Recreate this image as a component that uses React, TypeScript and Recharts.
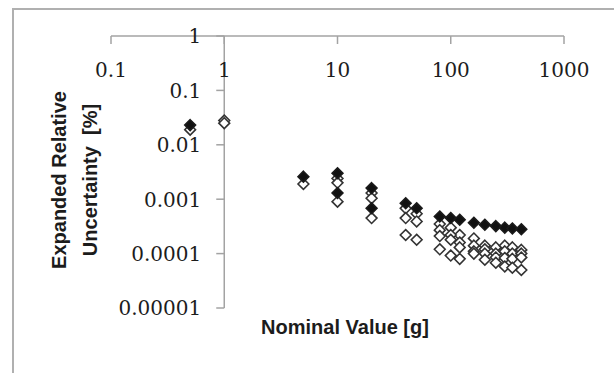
import { ScatterChart, Scatter, XAxis, YAxis, ReferenceLine } from "recharts"

const xTicks = [0.1, 1, 10, 100, 1000]
const xTickLabels = ["0.1", "1", "10", "100", "1000"]
const yTicks = [0.00001, 0.0001, 0.001, 0.01, 0.1, 1]
const yTickLabels = ["0.00001", "0.0001", "0.001", "0.01", "0.1", "1"]

const filledAX = [0.5, 5, 10, 20, 40, 50, 80, 100, 120, 160, 200, 250, 300, 350, 420]
const filledAY = [0.023, 0.0026, 0.003, 0.0016, 0.00084, 0.00068, 0.00048, 0.00045, 0.00042, 0.00037, 0.00034, 0.00032, 0.0003, 0.00029, 0.00028]

const filledBX = [10, 20]
const filledBY = [0.0013, 0.00068]

const openAX = [0.5, 1, 5, 10, 20, 40, 50, 80, 100, 120, 160, 200, 250, 300, 350, 420]
const openAY = [0.019, 0.028, 0.0019, 0.0024, 0.0013, 0.00068, 0.00054, 0.00035, 0.0003, 0.00022, 0.00019, 0.00014, 0.00013, 0.00014, 0.00013, 0.000117]

const openBX = [1, 10, 20, 40, 50, 80, 100, 120, 160, 200, 250, 300, 350, 420]
const openBY = [0.025, 0.002, 0.00104, 0.00045, 0.00039, 0.00027, 0.00022, 0.00016, 0.00014, 0.00012, 0.0001, 0.00011, 0.0001, 0.0001]

const openCX = [10, 20, 40, 50, 80, 100, 120, 160, 200, 250, 300, 350, 420]
const openCY = [0.0009, 0.00045, 0.00022, 0.00018, 0.00021, 0.00018, 0.00013, 0.00011, 0.0001, 0.000085, 0.000083, 0.00008, 0.000085]

const openDX = [80, 100, 120, 160, 200, 250, 300, 350, 420]
const openDY = [0.00012, 0.000092, 0.00008, 0.0001, 0.000077, 0.000068, 0.000058, 0.000055, 0.00005]

const toPoints = (xs: number[], ys: number[]) => xs.map((x, i) => ({ x, y: ys[i] }))

const W = 614
const H = 373
const M = { top: 35, right: 50, bottom: 65, left: 110 }
const AXIS = "#a3a3a3"
const TEXT = "#1c1c1c"
const SERIF = "'DejaVu Serif', 'Liberation Serif', serif"
const SANS = "'Liberation Sans', Arial, sans-serif"

// the y axis crosses at x = 1, one decade right of the plot's left edge
const decade = (W - M.left - 1 - M.right) / 4

const Diamond = (props: any) => {
  const { cx, cy, filled } = props
  if (cx == null || cy == null) return null
  const r = 5.4
  return (
    <polygon
      points={`${cx},${cy - r} ${cx + r},${cy} ${cx},${cy + r} ${cx - r},${cy}`}
      fill={filled ? "#111" : "#fff"}
      stroke={filled ? "#1a1a1a" : "#333"}
      strokeWidth={1.6}
    />
  )
}

const XTick = (props: any) => {
  const { x, y, index } = props
  return (
    <g>
      <line x1={x} y1={y} x2={x} y2={y + 8} stroke={AXIS} strokeWidth={1.5} />
      <text x={x} y={y + 41} textAnchor="middle" fontFamily={SERIF} fontSize={20} fill={TEXT}>
        {xTickLabels[index]}
      </text>
    </g>
  )
}

const YTick = (props: any) => {
  const { x, y, index } = props
  const ax = x + decade
  return (
    <g>
      <line x1={ax - 8} y1={y} x2={ax} y2={y} stroke={AXIS} strokeWidth={1.5} />
      <text x={ax - 23} y={y + 7.3} textAnchor="end" fontFamily={SERIF} fontSize={20} fill={TEXT}>
        {yTickLabels[index]}
      </text>
    </g>
  )
}

const series = [
  { name: "open A", data: toPoints(openAX, openAY), filled: false },
  { name: "open B", data: toPoints(openBX, openBY), filled: false },
  { name: "open C", data: toPoints(openCX, openCY), filled: false },
  { name: "open D", data: toPoints(openDX, openDY), filled: false },
  { name: "filled B", data: toPoints(filledBX, filledBY), filled: true },
  { name: "filled A", data: toPoints(filledAX, filledAY), filled: true },
]

export default function App() {
  return (
    <div style={{ position: "absolute", left: 0, top: 0, width: W, height: H, overflow: "hidden", background: "#fff" }}>
      <div
        style={{
          position: "absolute",
          left: 12,
          top: 8,
          width: 800,
          height: 600,
          border: "2px solid #b0b0b0",
        }}
      />
      <div style={{ position: "absolute", left: 0, top: 0 }}>
        <ScatterChart width={W} height={H} margin={M}>
          <XAxis
            type="number"
            dataKey="x"
            scale="log"
            domain={[0.1, 1000]}
            ticks={xTicks}
            orientation="top"
            height={1}
            tickSize={0}
            tickMargin={0}
            tick={<XTick />}
            axisLine={{ stroke: AXIS, strokeWidth: 1.5 }}
            allowDataOverflow
            interval={0}
          />
          <YAxis
            type="number"
            dataKey="y"
            scale="log"
            domain={[0.00001, 1]}
            ticks={yTicks}
            width={1}
            tickSize={0}
            tickMargin={0}
            tick={<YTick />}
            axisLine={false}
            allowDataOverflow
            interval={0}
          />
          <ReferenceLine x={1} stroke={AXIS} strokeWidth={1.5} />
          {series.map((s) => (
            <Scatter
              key={s.name}
              name={s.name}
              data={s.data}
              isAnimationActive={false}
              shape={(p: any) => <Diamond {...p} filled={s.filled} />}
            />
          ))}
          <text
            transform="translate(66,180) rotate(-90)"
            textAnchor="middle"
            fontFamily={SANS}
            fontWeight="bold"
            fontSize={20}
            fill={TEXT}
          >
            Expanded Relative
          </text>
          <text
            transform="translate(97,180) rotate(-90)"
            textAnchor="middle"
            fontFamily={SANS}
            fontWeight="bold"
            fontSize={20}
            fill={TEXT}
          >
            {"Uncertainty\u00a0 [%]"}
          </text>
          <text x={345} y={334} textAnchor="middle" fontFamily={SANS} fontWeight="bold" fontSize={20} fill={TEXT}>
            Nominal Value [g]
          </text>
        </ScatterChart>
      </div>
    </div>
  )
}
